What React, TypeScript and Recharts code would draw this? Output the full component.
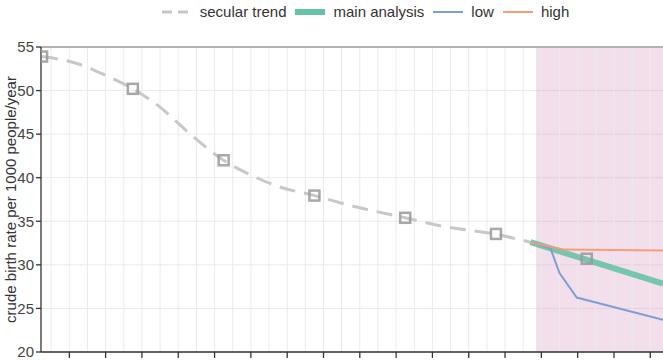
import {
  ComposedChart,
  Line,
  Scatter,
  XAxis,
  YAxis,
  CartesianGrid,
  ReferenceArea,
  ReferenceLine,
  Legend,
} from "recharts";

// secular trend (smooth dashed curve)
const trendYears = [1952.5, 1954.5, 1956, 1957.5, 1959, 1960.5, 1962.5, 1964, 1965.5, 1967.5, 1969.5, 1972.5, 1974.5, 1977.5, 1979.4];
const trendRates = [53.9, 53.05, 51.75, 50.2, 48.1, 45.3, 42.0, 40.3, 39.0, 37.95, 36.8, 35.4, 34.45, 33.5, 32.6];

// five-year observed values (open squares)
const obsYears = [1952.5, 1957.5, 1962.5, 1967.5, 1972.5, 1977.5, 1982.5];
const obsRates = [53.9, 50.2, 42.0, 37.95, 35.4, 33.55, 30.7];

// projections
const mainYears = [1979.4, 1986.7];
const mainRates = [32.6, 27.85];
const lowYears = [1979.4, 1980.5, 1981, 1981.95, 1986.7];
const lowRates = [32.6, 31.9, 29.05, 26.25, 23.7];
const highYears = [1979.4, 1981.3, 1986.7];
const highRates = [32.55, 31.75, 31.65];

const yTicks = [20, 25, 30, 35, 40, 45, 50, 55];
const xTicks = [1954, 1956, 1958, 1960, 1962, 1964, 1966, 1968, 1970, 1972, 1974, 1976, 1978, 1980, 1982, 1984, 1986];
const gridYears = [1953, 1954, 1955, 1956, 1957, 1958, 1959, 1960, 1961, 1962, 1963, 1964, 1965, 1966, 1967, 1968, 1969, 1970, 1971, 1972, 1973, 1974, 1975, 1976, 1977, 1978, 1979, 1980, 1981, 1982, 1983, 1984, 1985, 1986];

const xDomain = [1952.44, 1986.7];
const shadeStart = 1979.71;

const toRows = (xs: number[], ys: number[]) => xs.map((year, i) => ({ year, value: ys[i] }));

const trend = toRows(trendYears, trendRates);
const observed = toRows(obsYears, obsRates);
const main = toRows(mainYears, mainRates);
const low = toRows(lowYears, lowRates);
const high = toRows(highYears, highRates);

const font = "'Liberation Sans', Arial, sans-serif";

const legendItems = [
  { label: "secular trend", color: "#c8c8c8", width: 3, dash: "10 6" },
  { label: "main analysis", color: "#66c2a5", width: 6 },
  { label: "low", color: "#7f9fd2", width: 2 },
  { label: "high", color: "#f49d78", width: 2 },
];

function ChartLegend() {
  return (
    <div style={{ display: "flex", justifyContent: "center", gap: 9, fontFamily: font, fontSize: 15, color: "#333", paddingLeft: 68 }}>
      {legendItems.map((it) => (
        <div key={it.label} style={{ display: "flex", alignItems: "center", gap: 8 }}>
          <svg width={30} height={10}>
            <line x1={0} x2={30} y1={5} y2={5} stroke={it.color} strokeWidth={it.width} strokeDasharray={it.dash} />
          </svg>
          <span>{it.label}</span>
        </div>
      ))}
    </div>
  );
}

function SquareDot(props: any) {
  const { cx, cy } = props;
  return (
    <rect x={cx - 5} y={cy - 5} width={10} height={10} fill="none" stroke="#999" strokeOpacity={0.85} strokeWidth={2.5} />
  );
}

function YLabel(props: any) {
  const vb = props.viewBox;
  const cy = vb.y + vb.height / 2;
  return (
    <text x={10} y={cy} transform={`rotate(-90, 10, ${cy})`} textAnchor="middle" dominantBaseline="central" fontFamily={font} fontSize={15} fill="#333">
      crude birth rate per 1000 people/year
    </text>
  );
}

export default function App() {
  return (
    <div style={{ position: "absolute", left: 0, top: 0, width: 663, height: 361, overflow: "hidden", background: "#fff" }}>
      <ComposedChart width={663} height={361} margin={{ top: 30, right: 0, bottom: 0, left: 0 }}>
        <CartesianGrid stroke="#ebebeb" vertical={false} horizontalValues={yTicks} />
        {gridYears.map((y) => (
          <ReferenceLine key={y} x={y} stroke="#ebebeb" strokeWidth={1} />
        ))}
        <ReferenceArea x1={shadeStart} x2={xDomain[1]} y1={20} y2={55} fill="#cf7fb3" fillOpacity={0.25} stroke="none" ifOverflow="hidden" />
        <XAxis
          type="number"
          dataKey="year"
          domain={xDomain}
          ticks={xTicks}
          interval={0}
          allowDataOverflow
          height={9}
          tick={() => <g />}
          tickSize={6}
          axisLine={{ stroke: "#333", strokeWidth: 1.3 }}
          tickLine={{ stroke: "#333", strokeWidth: 1.3 }}
        />
        <YAxis
          type="number"
          domain={[20, 55]}
          ticks={yTicks}
          interval={0}
          allowDataOverflow
          width={41}
          tickSize={5}
          tickMargin={2}
          axisLine={{ stroke: "#333", strokeWidth: 1.3 }}
          tickLine={{ stroke: "#333", strokeWidth: 1.3 }}
          tick={{ fontSize: 15, fill: "#444", fontFamily: font }}
          label={{ content: <YLabel /> }}
        />
        <ReferenceLine y={55} stroke="#b3b3b3" strokeWidth={2} />
        <Legend verticalAlign="top" content={<ChartLegend />} wrapperStyle={{ top: 3, left: 0, width: 663 }} />
        <Line data={trend} dataKey="value" type="monotone" stroke="#c8c8c8" strokeWidth={3} strokeDasharray="16 9" dot={false} isAnimationActive={false} legendType="none" />
        <Line data={main} dataKey="value" type="linear" stroke="#66c2a5" strokeOpacity={0.88} strokeWidth={6} dot={false} isAnimationActive={false} legendType="none" />
        <Line data={low} dataKey="value" type="linear" stroke="#7f9fd2" strokeWidth={2} dot={false} isAnimationActive={false} legendType="none" />
        <Line data={high} dataKey="value" type="linear" stroke="#f49d78" strokeWidth={2} dot={false} isAnimationActive={false} legendType="none" />
        <Scatter data={observed} dataKey="value" shape={<SquareDot />} isAnimationActive={false} legendType="none" />
      </ComposedChart>
    </div>
  );
}
